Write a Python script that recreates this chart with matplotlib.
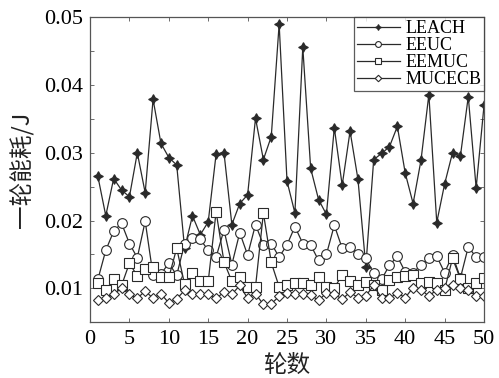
import matplotlib
matplotlib.use("Agg")
import matplotlib.pyplot as plt
import numpy as np

rounds = list(range(1, 51))
leach = [0.0265, 0.0207, 0.0262, 0.0245, 0.0235, 0.0300, 0.0241, 0.0379, 0.0314, 0.0293,
         0.0282, 0.0159, 0.0207, 0.0179, 0.0198, 0.0298, 0.0300, 0.0194, 0.0225, 0.0238,
         0.0351, 0.0290, 0.0324, 0.0490, 0.0258, 0.0211, 0.0456, 0.0277, 0.0231, 0.0209,
         0.0337, 0.0252, 0.0332, 0.0261, 0.0132, 0.0290, 0.0299, 0.0309, 0.0339, 0.0270,
         0.0225, 0.0289, 0.0386, 0.0197, 0.0254, 0.0300, 0.0295, 0.0383, 0.0248, 0.0370]
eeuc = [0.0113, 0.0156, 0.0184, 0.0196, 0.0166, 0.0145, 0.0199, 0.0119, 0.0121, 0.0137,
        0.0119, 0.0166, 0.0174, 0.0172, 0.0156, 0.0146, 0.0186, 0.0135, 0.0182, 0.0149,
        0.0194, 0.0164, 0.0166, 0.0146, 0.0164, 0.0191, 0.0166, 0.0164, 0.0141, 0.0150,
        0.0193, 0.0159, 0.0161, 0.0151, 0.0144, 0.0122, 0.0113, 0.0134, 0.0147, 0.0124,
        0.0122, 0.0135, 0.0144, 0.0147, 0.0123, 0.0149, 0.0115, 0.0161, 0.0146, 0.0146]
eemuc = [0.0107, 0.0097, 0.0113, 0.0104, 0.0137, 0.0118, 0.0128, 0.0131, 0.0117, 0.0116,
         0.0159, 0.0106, 0.0122, 0.0110, 0.0110, 0.0213, 0.0139, 0.0110, 0.0117, 0.0102,
         0.0102, 0.0211, 0.0138, 0.0102, 0.0104, 0.0107, 0.0107, 0.0105, 0.0117, 0.0102,
         0.0101, 0.0119, 0.0110, 0.0105, 0.0109, 0.0104, 0.0098, 0.0112, 0.0117, 0.0118,
         0.0119, 0.0108, 0.0109, 0.0108, 0.0098, 0.0144, 0.0114, 0.0100, 0.0107, 0.0115]
mucecb = [0.0082, 0.0085, 0.0091, 0.0100, 0.0091, 0.0085, 0.0096, 0.0085, 0.0092, 0.0078,
          0.0084, 0.0097, 0.0091, 0.0091, 0.0091, 0.0085, 0.0094, 0.0091, 0.0104, 0.0085,
          0.0092, 0.0076, 0.0077, 0.0088, 0.0093, 0.0091, 0.0091, 0.0090, 0.0082, 0.0093,
          0.0091, 0.0084, 0.0094, 0.0086, 0.0089, 0.0104, 0.0085, 0.0085, 0.0093, 0.0086,
          0.0101, 0.0098, 0.0088, 0.0098, 0.0101, 0.0104, 0.0100, 0.0097, 0.0089, 0.0089]
names = ["LEACH", "EEUC", "EEMUC", "MUCECB"]
xticks = [0, 5, 10, 15, 20, 25, 30, 35, 40, 45, 50]
yticks = [0.005, 0.01, 0.015, 0.02, 0.025, 0.03, 0.035, 0.04, 0.045, 0.05]
ytick_labels = ["", "0.01", "", "0.02", "", "0.03", "", "0.04", "", "0.05"]

serif = "Liberation Serif"
cjk = ["Noto Sans CJK SC", "DejaVu Sans"]
col = "#2a2a2a"

fig = plt.figure(figsize=(4.99, 3.78), dpi=100)
ax = fig.add_axes([0.1804, 0.148, 0.7896, 0.806])

series = [leach, eeuc, eemuc, mucecb]
markers = [(4, 1, 0), "o", "s", "D"]
msizes = [7, 7, 7, 5.5]
for s, name, m, ms in zip(series, names, markers, msizes):
    face = col if name == "LEACH" else "white"
    ax.plot(rounds, s, color=col, lw=0.9, marker=m, markersize=ms,
            markerfacecolor=face, markeredgecolor=col, markeredgewidth=0.8, label=name)

ax.set_xlim(0, 50)
ax.set_ylim(0.005, 0.05)
ax.set_xticks(xticks)
ax.set_xticklabels([str(v) for v in xticks], fontfamily=serif, fontsize=16)
ax.set_yticks(yticks)
ax.set_yticklabels(ytick_labels, fontfamily=serif, fontsize=16)
ax.tick_params(direction="in", top=True, right=True, length=3, width=0.6,
               color="#555555")
ax.tick_params(axis="x", pad=6)
ax.tick_params(axis="y", pad=5)
for sp in ax.spines.values():
    sp.set_color("#555555")
    sp.set_linewidth(0.9)

ax.set_xlabel("轮数", fontfamily=cjk, fontsize=17, labelpad=3, color="#222222")
ax.set_ylabel("一轮能耗/J", fontfamily=cjk, fontsize=17, labelpad=7, color="#222222")

leg = ax.legend(loc="upper right", prop={"family": serif, "size": 13},
                frameon=True, fancybox=False, borderaxespad=0.0, handlelength=2.4,
                handletextpad=0.3, labelspacing=0.0, borderpad=0.15, markerscale=0.6)
leg.get_frame().set_edgecolor("#333333")
leg.get_frame().set_linewidth(0.9)

fig.savefig("out.png", dpi=100)
